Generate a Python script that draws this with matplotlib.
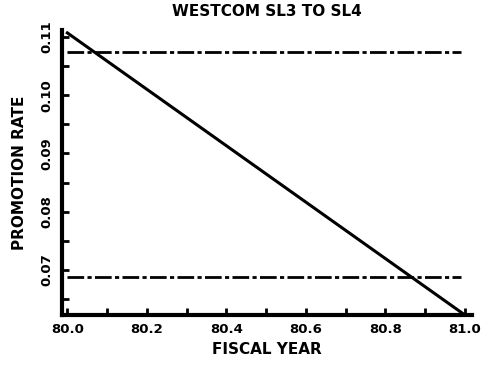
import numpy as np
import matplotlib
matplotlib.use('Agg')
import matplotlib.pyplot as plt
from matplotlib.ticker import MultipleLocator, FormatStrFormatter

# fitted promotion rate trend over the fiscal year
fiscal_year = [80.0, 81.0]
promotion_rate = [0.1107, 0.0623]

# reference bands
band_x = [80.0, 80.99]
upper_band = 0.1074
lower_band = 0.0688

plt.rcParams['font.family'] = ['DejaVu Sans']
plt.rcParams['font.weight'] = 'bold'

fig = plt.figure(figsize=(4.82, 3.70), dpi=100)
ax = fig.add_axes([0.129, 0.149, 0.850, 0.770])

ax.plot(fiscal_year, promotion_rate, color='black', linewidth=2.2, clip_on=False)
ax.plot(band_x, [upper_band, upper_band], color='black', linewidth=2.0,
        linestyle=(0, (6, 1.2, 1.5, 1.2)))
ax.plot(band_x, [lower_band, lower_band], color='black', linewidth=2.0,
        linestyle=(0, (6, 1.2, 1.5, 1.2)))

ax.set_xlim(79.987, 81.018)
ax.set_ylim(0.0623, 0.1112)

ax.xaxis.set_major_locator(MultipleLocator(0.2))
ax.xaxis.set_minor_locator(MultipleLocator(0.1))
ax.yaxis.set_major_locator(MultipleLocator(0.01))
ax.yaxis.set_minor_locator(MultipleLocator(0.005))
ax.xaxis.set_major_formatter(FormatStrFormatter('%.1f'))
ax.yaxis.set_major_formatter(FormatStrFormatter('%.2f'))

for side in ['top', 'right']:
    ax.spines[side].set_visible(False)
for side in ['left', 'bottom']:
    ax.spines[side].set_linewidth(3)

ax.tick_params(which='both', direction='in', width=2, color='black')
ax.tick_params(which='major', length=5, labelsize=9.5, pad=6)
ax.tick_params(which='minor', length=5)
for lbl in ax.get_yticklabels():
    lbl.set_rotation(90)
    lbl.set_va('center')
    lbl.set_fontweight('heavy')
for lbl in ax.get_xticklabels():
    lbl.set_fontweight('heavy')

ax.set_title('WESTCOM SL3 TO SL4', fontsize=11, fontweight='heavy', pad=10, x=0.5)
ax.set_xlabel('FISCAL YEAR', fontsize=11, fontweight='heavy', labelpad=4)
ax.set_ylabel('PROMOTION RATE', fontsize=11, fontweight='heavy', labelpad=10)

fig.savefig('out.png', dpi=100)
